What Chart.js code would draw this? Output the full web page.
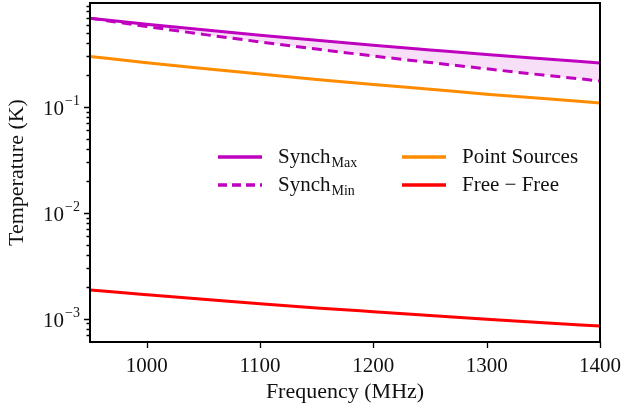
<!DOCTYPE html>
<html>
<head>
<meta charset="utf-8">
<script src="https://cdn.jsdelivr.net/npm/chart.js@4.4.1/dist/chart.umd.min.js"></script>
<style>
  html, body { margin: 0; padding: 0; background: #fff; }
  #wrap { width: 624px; height: 409px; }
</style>
</head>
<body>
<div id="wrap"><canvas id="chart"></canvas></div>
<script>
// frequencies (MHz)
const freqs = [950, 1000, 1050, 1100, 1150, 1200, 1250, 1300, 1350, 1400];
// temperatures (K)
const synchMax = [0.69, 0.606, 0.536, 0.477, 0.426, 0.383, 0.346, 0.313, 0.285, 0.260];
const synchMin = [0.69, 0.576, 0.485, 0.412, 0.352, 0.303, 0.263, 0.229, 0.200, 0.176];
const pointSources = [0.30, 0.262, 0.231, 0.205, 0.182, 0.163, 0.147, 0.132, 0.120, 0.109];
const freeFree = [0.00186, 0.00168, 0.00152, 0.00138, 0.00126, 0.00116, 0.00107, 0.000987, 0.000914, 0.00085];

const xTicks = [1000, 1100, 1200, 1300, 1400];
const yMajor = [1e-3, 1e-2, 1e-1];
const yExp = ['\u22123', '\u22122', '\u22121'];

const FONT = '"Liberation Serif", "DejaVu Serif", serif';
const MAG = '#bf00bf', ORANGE = '#ff8c00', RED = '#ff0000';

const yMin = 6.1e-4, yMax = 0.96;

// all log ticks (1..9 per decade) inside the range
const yAll = [];
for (let e = -4; e <= 0; e++) {
    for (let m = 1; m <= 9; m++) {
        const v = m * Math.pow(10, e);
        if (v >= yMin && v <= yMax) yAll.push(v);
    }
}
const isMajor = v => yMajor.some(m => Math.abs(m - v) / m < 1e-6);

const pts = arr => freqs.map((f, i) => ({ x: f, y: arr[i] }));

// frame, tick marks, y labels and legend drawn on top
const decor = {
    id: 'decor',
    afterDraw(chart) {
        const ctx = chart.ctx;
        const a = chart.chartArea;
        const xs = chart.scales.x, ys = chart.scales.y;
        ctx.save();
        ctx.strokeStyle = '#000';
        ctx.lineWidth = 2;
        ctx.strokeRect(a.left, a.top, a.right - a.left, a.bottom - a.top);

        ctx.lineWidth = 1.3;
        ctx.beginPath();
        xTicks.forEach(v => {
            const px = Math.round(xs.getPixelForValue(v)) + 0.5;
            ctx.moveTo(px, a.bottom);
            ctx.lineTo(px, a.bottom + 6);
        });
        yAll.forEach(v => {
            const py = Math.round(ys.getPixelForValue(v)) + 0.5;
            ctx.moveTo(a.left, py);
            ctx.lineTo(a.left - (isMajor(v) ? 6 : 3.5), py);
        });
        ctx.stroke();

        // y tick labels 10^n
        ctx.fillStyle = '#111';
        ctx.textBaseline = 'alphabetic';
        yMajor.forEach((v, i) => {
            const py = ys.getPixelForValue(v);
            ctx.font = '14px ' + FONT;
            ctx.textAlign = 'right';
            const ew = ctx.measureText(yExp[i]).width;
            const right = a.left - 10;
            ctx.fillText(yExp[i], right, py - 2);
            ctx.font = '21px ' + FONT;
            ctx.fillText('10', right - ew - 1, py + 8);
        });

        // legend
        const rows = [
            { x: 218, y: 157, color: MAG, dash: [], main: 'Synch', sub: 'Max' },
            { x: 218, y: 185, color: MAG, dash: [9, 5], main: 'Synch', sub: 'Min' },
            { x: 402, y: 157, color: ORANGE, dash: [], main: 'Point Sources', sub: '' },
            { x: 402, y: 185, color: RED, dash: [], main: 'Free \u2212 Free', sub: '' }
        ];
        rows.forEach(r => {
            ctx.strokeStyle = r.color;
            ctx.lineWidth = 3.5;
            ctx.setLineDash(r.dash);
            ctx.beginPath();
            ctx.moveTo(r.x, r.y);
            ctx.lineTo(r.x + 44, r.y);
            ctx.stroke();
            ctx.setLineDash([]);
            ctx.fillStyle = '#111';
            ctx.textAlign = 'left';
            ctx.font = '21px ' + FONT;
            ctx.fillText(r.main, r.x + 60, r.y + 6);
            if (r.sub) {
                const w = ctx.measureText(r.main).width;
                ctx.font = '14px ' + FONT;
                ctx.fillText(r.sub, r.x + 60 + w + 1, r.y + 10);
            }
        });
        ctx.restore();
    }
};

new Chart(document.getElementById('chart'), {
    type: 'line',
    data: {
        datasets: [
            { label: 'SynchMax', data: pts(synchMax), borderColor: MAG, borderWidth: 3,
              fill: '+1', backgroundColor: 'rgba(191,0,191,0.12)' },
            { label: 'SynchMin', data: pts(synchMin), borderColor: MAG, borderWidth: 3,
              borderDash: [10, 6], fill: false },
            { label: 'Point Sources', data: pts(pointSources), borderColor: ORANGE, borderWidth: 3, fill: false },
            { label: 'Free - Free', data: pts(freeFree), borderColor: RED, borderWidth: 3, fill: false }
        ]
    },
    options: {
        responsive: true,
        maintainAspectRatio: false,
        animation: false,
        elements: { point: { radius: 0 }, line: { tension: 0.4, cubicInterpolationMode: 'monotone' } },
        layout: { padding: { top: 3, right: 24, left: 0, bottom: 0 } },
        plugins: { legend: { display: false }, tooltip: { enabled: false } },
        scales: {
            x: {
                type: 'linear', min: 950, max: 1400,
                grid: { display: false }, border: { display: false },
                afterBuildTicks: s => { s.ticks = xTicks.map(v => ({ value: v })); },
                afterFit: s => { s.height = 67; s.paddingLeft = 0; s.paddingRight = 0; },
                ticks: { color: '#111', padding: 4, maxRotation: 0, font: { family: FONT, size: 21 },
                         callback: v => String(v) },
                title: { display: true, text: 'Frequency (MHz)', color: '#111', padding: { top: 0 },
                         font: { family: FONT, size: 22 } }
            },
            y: {
                type: 'logarithmic', min: yMin, max: yMax,
                grid: { display: false }, border: { display: false },
                afterBuildTicks: s => { s.ticks = yMajor.map(v => ({ value: v })); },
                afterFit: s => { s.width = 90; s.paddingTop = 0; s.paddingBottom = 0; },
                ticks: { display: false },
                title: { display: true, text: 'Temperature (K)', color: '#111', padding: { bottom: 0 },
                         font: { family: FONT, size: 22 } }
            }
        }
    },
    plugins: [decor]
});
</script>
</body>
</html>
